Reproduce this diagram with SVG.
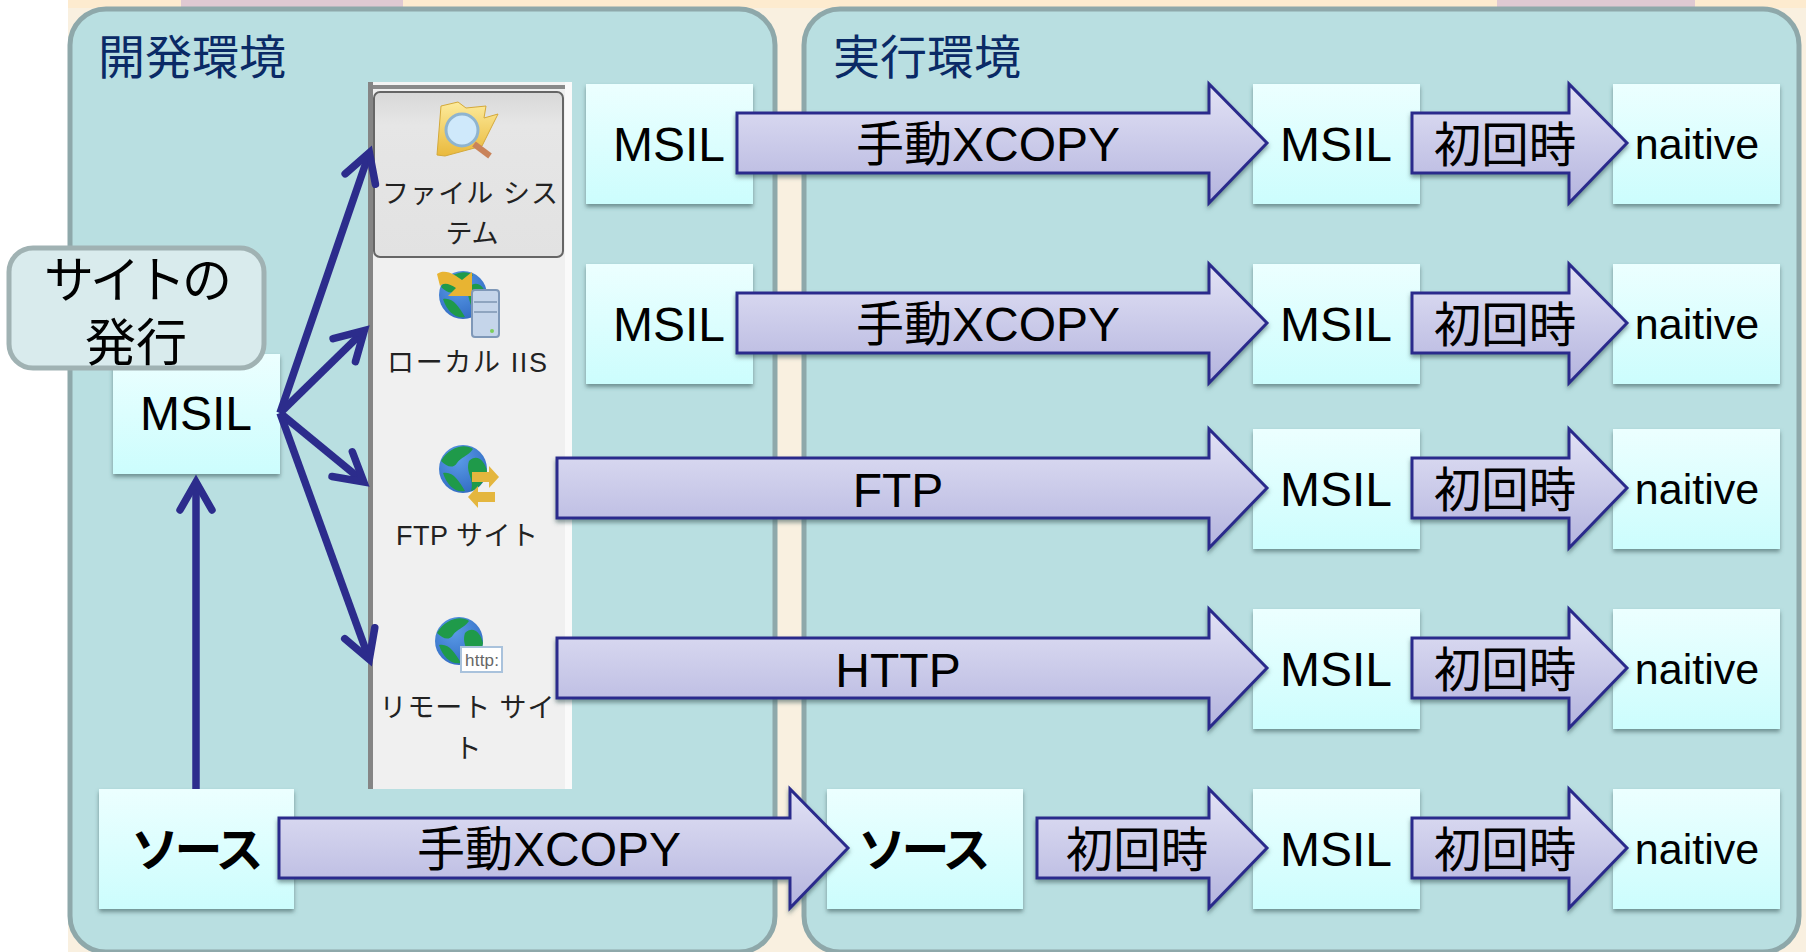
<svg xmlns="http://www.w3.org/2000/svg" width="1806" height="952" viewBox="0 0 1806 952">
<style>
text{font-family:"Liberation Sans","Noto Sans CJK JP",sans-serif;fill:#000;text-anchor:middle}
.panel{fill:#b9dfe1;stroke:#8ea8aa;stroke-width:5}
.title{font-size:47px;fill:#0a2a66;text-anchor:start}
.box{fill:url(#boxG);filter:url(#sh)}
.blk{fill:url(#blkG);stroke:#2c2c8c;stroke-width:3;stroke-linejoin:miter;filter:url(#sh)}
.t48{font-size:48px}
.t47{font-size:47.5px}
.nat{font-size:43px}
.src{font-size:48px;font-weight:700;letter-spacing:-4.5px}
.ui{font-size:27px;fill:#222}
.conn{fill:none;stroke:#2c2c8c;stroke-width:7.5;marker-end:url(#open)}
</style>
<defs>
<linearGradient id="boxG" x1="0" y1="0" x2="0" y2="1"><stop offset="0" stop-color="#ecffff"/><stop offset="1" stop-color="#ccfdfd"/></linearGradient>
<linearGradient id="blkG" x1="0" y1="0" x2="0" y2="1"><stop offset="0" stop-color="#e2e2f5"/><stop offset="1" stop-color="#b4b4de"/></linearGradient>
<linearGradient id="btnG" x1="0" y1="0" x2="0" y2="1"><stop offset="0" stop-color="#d8d8d8"/><stop offset=".2" stop-color="#e6e6e6"/><stop offset="1" stop-color="#e2e2e2"/></linearGradient>
<linearGradient id="fold" x1="0" y1="0" x2="0" y2="1"><stop offset="0" stop-color="#fdeb9c"/><stop offset="1" stop-color="#e9b93c"/></linearGradient>
<radialGradient id="globe" cx=".4" cy=".3" r=".8"><stop offset="0" stop-color="#5a9be8"/><stop offset="1" stop-color="#2f68c0"/></radialGradient>
<filter id="sh" x="-10%" y="-10%" width="120%" height="125%"><feDropShadow dx="0" dy="3" stdDeviation="2" flood-color="#3a5a5a" flood-opacity=".6"/></filter>
<marker id="open" markerUnits="userSpaceOnUse" markerWidth="60" markerHeight="60" refX="40" refY="30" orient="auto" overflow="visible"><path d="M12,14 L40,30 L12,46" fill="none" stroke="#2c2c8c" stroke-width="7.5" stroke-linecap="round" stroke-linejoin="miter" stroke-miterlimit="8"/></marker>
<g id="earth"><circle r="24" fill="url(#globe)"/><path d="M-22,-8 C-14,-22 2,-26 10,-20 C4,-12 -2,-12 -6,-6 C-10,0 -16,-2 -22,-8Z M6,-8 C14,-16 22,-8 24,2 C22,14 14,20 8,22 C12,10 2,4 6,-8Z M-20,4 C-10,2 -4,12 2,22 C-8,24 -16,16 -20,4Z" fill="#1f9a4a"/></g>
</defs>

<g id="background">
<rect x="68" y="0" width="1738" height="952" fill="#f9f0e0"/>
<rect x="68" y="0" width="1738" height="8" fill="#fdebcf"/>
<rect x="181" y="0" width="222" height="8" fill="#dfc9d2"/>
<rect x="1497" y="0" width="198" height="8" fill="#dfc9d2"/>
</g>

<g id="panel-dev"><rect class="panel" x="70" y="9" width="705" height="943" rx="36"/><text class="title" x="98" y="74">開発環境</text></g>
<g id="panel-run"><rect class="panel" x="804" y="9" width="995" height="943" rx="36"/><text class="title" x="833" y="74">実行環境</text></g>

<g id="publish-dialog">
<rect x="368" y="82" width="204" height="707" fill="#f0f0f0"/>
<rect x="368" y="82" width="204" height="3" fill="#f4f4f4"/>
<rect x="368" y="85" width="197" height="4" fill="#8a8a8a"/>
<rect x="368" y="82" width="5" height="707" fill="#858585"/>
<rect x="565" y="82" width="7" height="707" fill="#fafafa"/>
<rect x="374" y="92" width="189" height="165" rx="6" fill="url(#btnG)" stroke="#666" stroke-width="2"/>
<g id="icon-folder">
<path d="M437,155 L441,106 L458,102 L466,108 L486,106 L484,118 L498,114 L482,146 L445,156Z" fill="url(#fold)" stroke="#d4a93a"/>
<path d="M474,144 L490,156" stroke="#c9835a" stroke-width="6"/>
<circle cx="462" cy="130" r="16" fill="#cfe9fb" stroke="#8fb4cf" stroke-width="3"/>
</g>
<text class="ui" x="470" y="203" textLength="176">ファイル シス</text>
<text class="ui" x="472" y="243">テム</text>
<g id="icon-iis">
<use href="#earth" x="463" y="295"/>
<path d="M437,274 C446,268 456,276 462,280 L472,272 L472,296 L448,296 L456,288 C450,284 444,282 440,286Z" fill="#e8b432"/>
<rect x="472" y="290" width="27" height="47" rx="3" fill="#c5d5ea" stroke="#7f98b8" stroke-width="2"/>
<path d="M474,302 H497 M474,312 H497" stroke="#8fa5c0" stroke-width="2"/>
<circle cx="492" cy="331" r="2" fill="#7ccf5a"/>
</g>
<text class="ui" x="467" y="372" textLength="160">ローカル IIS</text>
<g id="icon-ftp">
<use href="#earth" x="463" y="469"/>
<path d="M472,472 H489 V466 L499,477 L489,488 V482 H472Z" fill="#e4b63e"/>
<path d="M495,492 H478 V486 L468,497 L478,508 V502 H495Z" fill="#e4b63e"/>
</g>
<text class="ui" x="467" y="545" textLength="142">FTP サイト</text>
<g id="icon-remote">
<use href="#earth" x="459" y="641"/>
<rect x="461" y="647" width="41" height="25" fill="#fff" stroke="#a9c2dc" stroke-width="2"/>
<text x="482" y="666" style="font-size:17px;fill:#666" textLength="34">http:</text>
</g>
<text class="ui" x="467" y="717" textLength="175">リモート サイ</text>
<text class="ui" x="468" y="758">ト</text>
</g>

<g id="node-msil-dev"><rect class="box" x="113" y="354" width="167" height="120"/><text class="t48" x="196" y="430">MSIL</text></g>
<g id="node-src-dev"><rect class="box" x="99" y="789" width="195" height="120"/><text class="src" x="195" y="867">ソース</text></g>
<g id="node-msil-a"><rect class="box" x="586" y="84" width="167" height="120"/><text class="t48" x="669" y="161">MSIL</text></g>
<g id="node-msil-b"><rect class="box" x="586" y="264" width="167" height="120"/><text class="t48" x="669" y="341">MSIL</text></g>

<g id="node-msil-1"><rect class="box" x="1253" y="84" width="167" height="120"/><text class="t48" x="1336" y="161">MSIL</text></g>
<g id="node-msil-2"><rect class="box" x="1253" y="264" width="167" height="120"/><text class="t48" x="1336" y="341">MSIL</text></g>
<g id="node-msil-3"><rect class="box" x="1253" y="429" width="167" height="120"/><text class="t48" x="1336" y="506">MSIL</text></g>
<g id="node-msil-4"><rect class="box" x="1253" y="609" width="167" height="120"/><text class="t48" x="1336" y="686">MSIL</text></g>
<g id="node-msil-5"><rect class="box" x="1253" y="789" width="167" height="120"/><text class="t48" x="1336" y="866">MSIL</text></g>

<g id="node-native-1"><rect class="box" x="1613" y="84" width="167" height="120"/><text class="nat" x="1697" y="159">naitive</text></g>
<g id="node-native-2"><rect class="box" x="1613" y="264" width="167" height="120"/><text class="nat" x="1697" y="339">naitive</text></g>
<g id="node-native-3"><rect class="box" x="1613" y="429" width="167" height="120"/><text class="nat" x="1697" y="504">naitive</text></g>
<g id="node-native-4"><rect class="box" x="1613" y="609" width="167" height="120"/><text class="nat" x="1697" y="684">naitive</text></g>
<g id="node-native-5"><rect class="box" x="1613" y="789" width="167" height="120"/><text class="nat" x="1697" y="864">naitive</text></g>

<g id="node-src-run"><rect class="box" x="827" y="789" width="196" height="120"/><text class="src" x="922" y="867">ソース</text></g>

<g id="connectors">
<g id="publish-arrows">
<path class="conn" d="M196,789 V482"/>
<path class="conn" d="M280,413 L369.4,152.6"/>
<path class="conn" d="M280,413 L364.3,330.6"/>
<path class="conn" d="M280,413 L363.8,481.9"/>
<path class="conn" d="M280,413 L369.3,659.5"/>
</g>
<g id="row1"><path class="blk" d="M737,113 H1209 V84 L1267,143 L1209,203 V173 H737Z"/><text class="t48" x="988" y="161">手動XCOPY</text>
<path class="blk" d="M1412,113 H1569 V84 L1627,143 L1569,203 V173 H1412Z"/><text class="t47" x="1505" y="162">初回時</text></g>
<g id="row2"><path class="blk" d="M737,293 H1209 V264 L1267,323 L1209,383 V353 H737Z"/><text class="t48" x="988" y="341">手動XCOPY</text>
<path class="blk" d="M1412,293 H1569 V264 L1627,323 L1569,383 V353 H1412Z"/><text class="t47" x="1505" y="342">初回時</text></g>
<g id="row3"><path class="blk" d="M557,458 H1209 V429 L1267,488 L1209,548 V518 H557Z"/><text class="t48" x="898" y="507">FTP</text>
<path class="blk" d="M1412,458 H1569 V429 L1627,488 L1569,548 V518 H1412Z"/><text class="t47" x="1505" y="507">初回時</text></g>
<g id="row4"><path class="blk" d="M557,638 H1209 V609 L1267,668 L1209,728 V698 H557Z"/><text class="t48" x="898" y="687">HTTP</text>
<path class="blk" d="M1412,638 H1569 V609 L1627,668 L1569,728 V698 H1412Z"/><text class="t47" x="1505" y="687">初回時</text></g>
<g id="row5"><path class="blk" d="M279,818 H790 V789 L848,848 L790,908 V878 H279Z"/><text class="t48" x="549" y="866">手動XCOPY</text>
<path class="blk" d="M1037,818 H1209 V789 L1267,848 L1209,908 V878 H1037Z"/><text class="t47" x="1137" y="867">初回時</text>
<path class="blk" d="M1412,818 H1569 V789 L1627,848 L1569,908 V878 H1412Z"/><text class="t47" x="1505" y="867">初回時</text></g>
</g>

<g id="callout">
<rect x="9" y="248" width="255" height="120" rx="24" fill="#d9ebed" stroke="#a0b2b3" stroke-width="5"/>
<text x="136" y="298" style="font-size:50px;letter-spacing:-4px">サイトの</text>
<text x="136" y="361" style="font-size:51px">発行</text>
</g>
</svg>
